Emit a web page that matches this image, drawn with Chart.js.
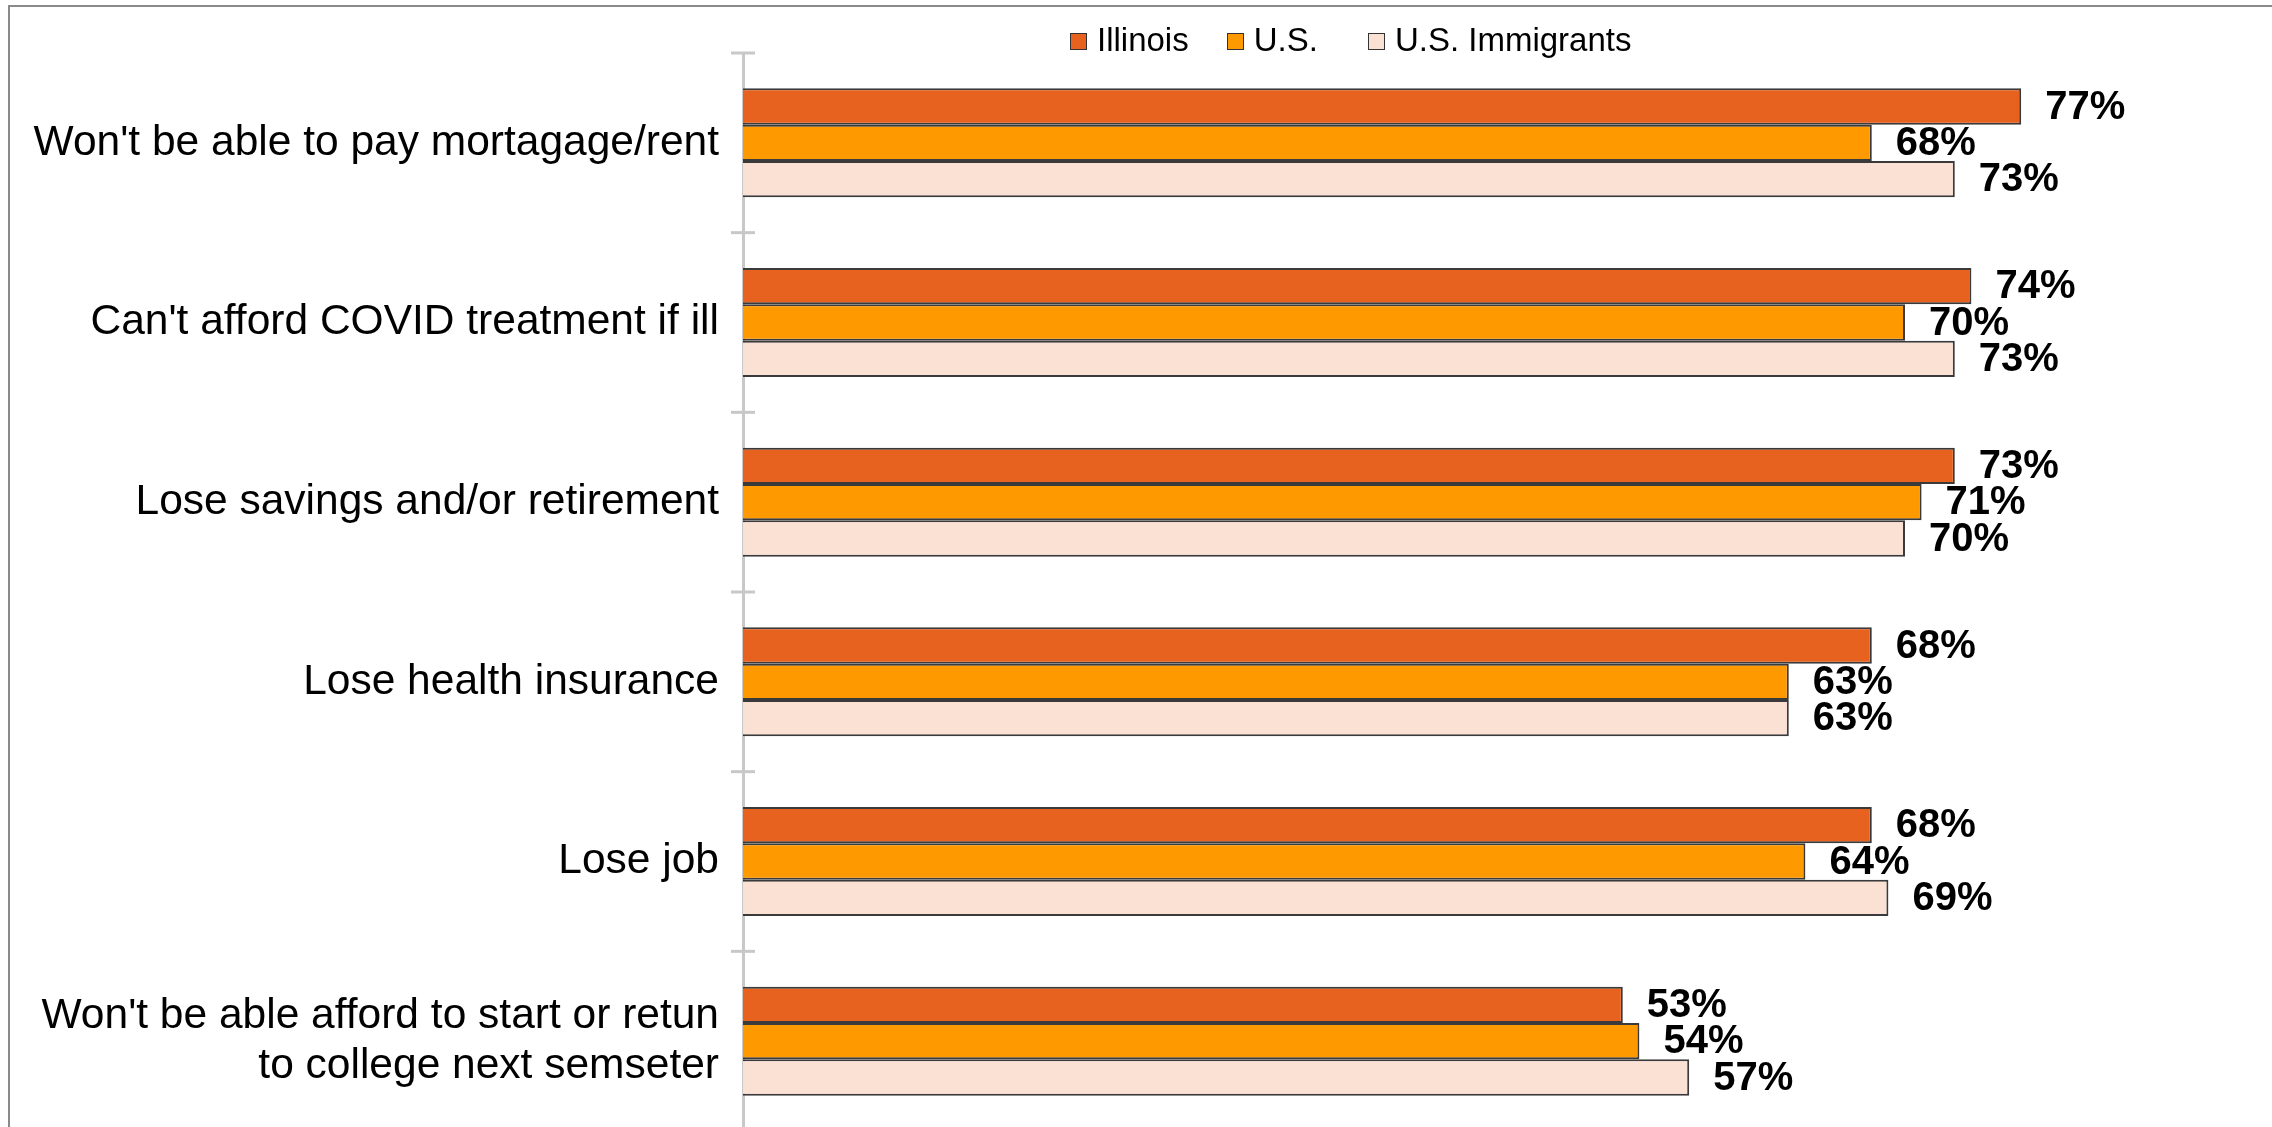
<!DOCTYPE html>
<html>
<head>
<meta charset="utf-8">
<script src="https://cdn.jsdelivr.net/npm/chart.js@4"></script>
<style>
  html, body { margin:0; padding:0; background:#fff; overflow:hidden; width:2272px; height:1127px; }
  #wrap { position:absolute; left:0; top:0; width:2500px; height:1140px; }
  #frame { position:absolute; left:8px; top:5px; width:3000px; height:2000px; border-top:2px solid #8a8a8a; border-left:2px solid #8a8a8a; pointer-events:none; }
  #legend { position:absolute; left:1070px; top:20px; display:flex; align-items:center; font-family:"Liberation Sans", Arial, sans-serif; font-size:33px; line-height:40px; color:#000; white-space:nowrap; }
  .item { display:flex; align-items:center; margin-right:38px; }
  .item:nth-child(2) { margin-right:50px; }
  .box { width:17px; height:17px; box-sizing:border-box; border:1.5px solid #333; margin-right:10px; margin-top:3px; }
</style>
</head>
<body>
<div id="frame"></div>
<div id="wrap"><canvas id="c" width="2500" height="1140"></canvas></div>
<div id="legend"></div>
<script>
const categories = [
  "Won't be able to pay mortagage/rent",
  "Can't afford COVID treatment if ill",
  "Lose savings and/or retirement",
  "Lose health insurance",
  "Lose job",
  ["Won't be able afford to start or retun", "to college next semseter"]
];
const seriesNames = ["Illinois", "U.S.", "U.S. Immigrants"];
const illinois = [77, 74, 73, 68, 68, 53];
const us = [68, 70, 71, 63, 64, 54];
const usImmigrants = [73, 73, 70, 63, 69, 57];
const seriesColors = ["#E8621F", "#FF9900", "#FBE0D4"];

const seriesValues = [illinois, us, usImmigrants];

// HTML legend
const leg = document.getElementById('legend');
seriesNames.forEach((n, i) => {
  const it = document.createElement('div'); it.className = 'item';
  const b = document.createElement('div'); b.className = 'box'; b.style.background = seriesColors[i];
  const t = document.createElement('span'); t.textContent = n;
  it.appendChild(b); it.appendChild(t); leg.appendChild(it);
});

const crossTicks = {
  id: 'crossTicks',
  afterDraw(chart) {
    const y = chart.scales.y, ctx = chart.ctx;
    const half = (y.getPixelForValue(1) - y.getPixelForValue(0)) / 2;
    const ax = chart.chartArea.left;
    ctx.save();
    ctx.strokeStyle = '#c8c8c8'; ctx.lineWidth = 3;
    for (let i = 0; i <= categories.length; i++) {
      const py = y.getPixelForValue(i) - half;
      ctx.beginPath(); ctx.moveTo(ax - 12, py); ctx.lineTo(ax + 12, py); ctx.stroke();
    }
    ctx.restore();
  }
};

const valueLabels = {
  id: 'valueLabels',
  afterDatasetsDraw(chart) {
    const ctx = chart.ctx;
    ctx.save();
    ctx.font = 'bold 40px "Liberation Sans", Arial, sans-serif';
    ctx.fillStyle = '#000'; ctx.textAlign = 'left'; ctx.textBaseline = 'middle';
    chart.data.datasets.forEach((ds, di) => {
      chart.getDatasetMeta(di).data.forEach((bar, i) => {
        ctx.fillText(ds.data[i] + '%', bar.x + 24, bar.y + 1);
      });
    });
    ctx.restore();
  }
};

new Chart(document.getElementById('c'), {
  type: 'bar',
  data: {
    labels: categories,
    datasets: seriesNames.map((n, i) => ({
      label: n,
      data: seriesValues[i],
      backgroundColor: seriesColors[i],
      borderColor: '#3a3a3a',
      borderWidth: 2,
      categoryPercentage: 0.607,
      barPercentage: 1.0
    }))
  },
  options: {
    indexAxis: 'y',
    responsive: false,
    animation: false,
    devicePixelRatio: 1,
    layout: { padding: { top: 53, bottom: 9, left: 0, right: 97 } },
    plugins: { legend: { display: false }, tooltip: { enabled: false } },
    scales: {
      x: { display: false, min: 0, max: 100 },
      y: {
        afterFit(scale) { scale.width = 743; scale.paddingTop = 0; scale.paddingBottom = 0; },
        grid: { display: true, drawOnChartArea: false, drawTicks: false },
        border: { display: true, color: '#c8c8c8', width: 3 },
        ticks: {
          autoSkip: false,
          padding: 24,
          color: '#000',
          font: { family: '"Liberation Sans", Arial, sans-serif', size: 42.5, lineHeight: 1.18 }
        }
      }
    }
  },
  plugins: [crossTicks, valueLabels]
});
</script>
</body>
</html>
